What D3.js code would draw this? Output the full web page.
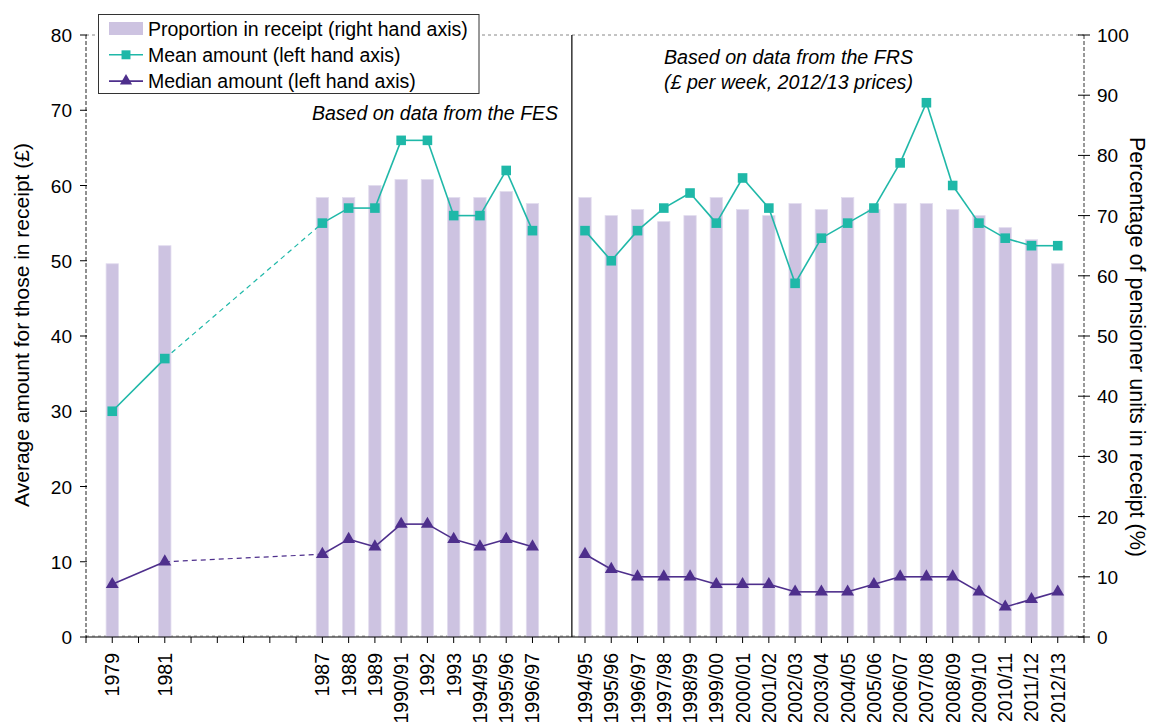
<!DOCTYPE html>
<html>
<head>
<meta charset="utf-8">
<script src="https://cdn.jsdelivr.net/npm/d3@7"></script>
<style>
  body { margin: 0; background: #fff; }
  text { font-family: "Liberation Sans", Arial, sans-serif; fill: #000; }
</style>
</head>
<body>
<script>
var width = 1151;
var height = 722;

// one slot per category on the x axis, "" = empty slot
var xLabels = ["1979","","1981","","","","","","1987","1988","1989","1990/91","1992","1993","1994/95","1995/96","1996/97",
  "",
  "1994/95","1995/96","1996/97","1997/98","1998/99","1999/00","2000/01","2001/02","2002/03","2003/04","2004/05",
  "2005/06","2006/07","2007/08","2008/09","2009/10","2010/11","2011/12","2012/13"];
var source = ["FES","FES","FES","FES","FES","FES","FES","FES","FES","FES","FES","FES","FES","FES","FES","FES","FES",
  "",
  "FRS","FRS","FRS","FRS","FRS","FRS","FRS","FRS","FRS","FRS","FRS","FRS","FRS","FRS","FRS","FRS","FRS","FRS","FRS"];

// percentage of pensioner units in receipt (right axis)
var proportion = [62,null,65,null,null,null,null,null,73,73,75,76,76,73,73,74,72,
  null,
  73,70,71,69,70,73,71,70,72,71,73,71,72,72,71,70,68,66,62];
// mean amount, £ per week (left axis)
var meanAmount = [30,null,37,null,null,null,null,null,55,57,57,66,66,56,56,62,54,
  null,
  54,50,54,57,59,55,61,57,47,53,55,57,63,71,60,55,53,52,52];
// median amount, £ per week (left axis)
var medianAmount = [7,null,10,null,null,null,null,null,11,13,12,15,15,13,12,13,12,
  null,
  11,9,8,8,8,7,7,7,6,6,6,7,8,8,8,6,4,5,6];

var leftTicks = [0,10,20,30,40,50,60,70,80];
var rightTicks = [0,10,20,30,40,50,60,70,80,90,100];

var barColor = "#cdc3e1";
var meanColor = "#1fb8a8";
var medianColor = "#4e2f8c";

var plotLeft = 86, plotRight = 1084, plotTop = 35, plotBottom = 637;

var svg = d3.select("body").append("svg")
    .attr("width", width)
    .attr("height", height);

var x = d3.scalePoint()
    .domain(d3.range(xLabels.length))
    .range([plotLeft, plotRight])
    .padding(1);
var step = x.step();

var yLeft = d3.scaleLinear().domain([0, 80]).range([plotBottom, plotTop]);
var yRight = d3.scaleLinear().domain([0, 100]).range([plotBottom, plotTop]);

// plot border (dashed)
svg.append("line")
    .attr("x1", plotLeft).attr("x2", plotRight)
    .attr("y1", plotTop).attr("y2", plotTop)
    .attr("stroke", "#888").attr("stroke-dasharray", "3,3");
svg.append("line")
    .attr("x1", plotLeft).attr("x2", plotRight)
    .attr("y1", plotBottom - 1).attr("y2", plotBottom - 1)
    .attr("stroke", "#999").attr("stroke-dasharray", "3,3");

// bars
var barWidth = step * 0.47;
svg.append("g").selectAll("rect")
  .data(proportion.map(function(v, i) { return {i: i, v: v}; }).filter(function(d) { return d.v != null; }))
  .enter().append("rect")
    .attr("x", function(d) { return x(d.i) - barWidth / 2; })
    .attr("y", function(d) { return yRight(d.v); })
    .attr("width", barWidth)
    .attr("height", function(d) { return yRight(0) - yRight(d.v); })
    .attr("fill", barColor)
    .attr("stroke", "#e2dcee")
    .attr("stroke-width", 0.8);

// separator between FES and FRS
var sepIndex = source.indexOf("FRS");
svg.append("line")
    .attr("x1", x(sepIndex) - step / 2).attr("x2", x(sepIndex) - step / 2)
    .attr("y1", plotTop).attr("y2", plotBottom)
    .attr("stroke", "#000").attr("stroke-width", 1.2);

// line segments: solid between nearby points, dashed across a long gap, none across sources
function segments(values) {
  var pts = [];
  values.forEach(function(v, i) { if (v != null) pts.push({i: i, v: v}); });
  var segs = [];
  for (var k = 1; k < pts.length; k++) {
    var a = pts[k - 1], b = pts[k];
    if (source[a.i] !== source[b.i]) continue;
    segs.push({a: a, b: b, dashed: (b.i - a.i) > 2});
  }
  return segs;
}

function drawSeries(values, color, shape) {
  var g = svg.append("g");
  g.selectAll("line")
    .data(segments(values))
    .enter().append("line")
      .attr("x1", function(d) { return x(d.a.i); })
      .attr("y1", function(d) { return yLeft(d.a.v); })
      .attr("x2", function(d) { return x(d.b.i); })
      .attr("y2", function(d) { return yLeft(d.b.v); })
      .attr("stroke", color)
      .attr("stroke-width", function(d) { return d.dashed ? 1.2 : 1.6; })
      .attr("stroke-dasharray", function(d) { return d.dashed ? "5,4" : null; });
  var sym = d3.symbol().type(shape).size(shape === d3.symbolSquare ? 92 : 72);
  g.selectAll("path")
    .data(values.map(function(v, i) { return {i: i, v: v}; }).filter(function(d) { return d.v != null; }))
    .enter().append("path")
      .attr("d", sym)
      .attr("transform", function(d) { return "translate(" + x(d.i) + "," + yLeft(d.v) + ")"; })
      .attr("fill", color);
}

drawSeries(meanAmount, meanColor, d3.symbolSquare);
drawSeries(medianAmount, medianColor, d3.symbolTriangle);

// left axis (dashed)
svg.append("line")
    .attr("x1", plotLeft).attr("x2", plotLeft)
    .attr("y1", plotTop).attr("y2", plotBottom)
    .attr("stroke", "#222").attr("stroke-dasharray", "4,2");
var gl = svg.append("g");
gl.selectAll("line").data(leftTicks).enter().append("line")
    .attr("x1", plotLeft - 6).attr("x2", plotLeft + 1)
    .attr("y1", function(d) { return yLeft(d); }).attr("y2", function(d) { return yLeft(d); })
    .attr("stroke", "#000");
gl.selectAll("text").data(leftTicks).enter().append("text")
    .attr("x", plotLeft - 14)
    .attr("y", function(d) { return yLeft(d) + 7; })
    .attr("text-anchor", "end")
    .attr("font-size", 19)
    .text(function(d) { return d; });

// right axis (dashed)
svg.append("line")
    .attr("x1", plotRight).attr("x2", plotRight)
    .attr("y1", plotTop).attr("y2", plotBottom)
    .attr("stroke", "#333").attr("stroke-dasharray", "4,2");
var gr = svg.append("g");
gr.selectAll("line").data(rightTicks).enter().append("line")
    .attr("x1", plotRight - 6).attr("x2", plotRight + 6)
    .attr("y1", function(d) { return yRight(d); }).attr("y2", function(d) { return yRight(d); })
    .attr("stroke", "#000");
gr.selectAll("text").data(rightTicks).enter().append("text")
    .attr("x", plotRight + 13)
    .attr("y", function(d) { return yRight(d) + 7; })
    .attr("text-anchor", "start")
    .attr("font-size", 19)
    .text(function(d) { return d; });

// bottom axis
svg.append("line")
    .attr("x1", plotLeft).attr("x2", plotRight)
    .attr("y1", plotBottom).attr("y2", plotBottom)
    .attr("stroke", "#000").attr("stroke-width", 1.2);
var tickXs = [plotLeft].concat(d3.range(xLabels.length).map(function(i) { return x(i); })).concat([plotRight]);
svg.append("g").selectAll("line").data(tickXs).enter().append("line")
    .attr("x1", function(d) { return d; }).attr("x2", function(d) { return d; })
    .attr("y1", plotBottom).attr("y2", plotBottom + 6)
    .attr("stroke", "#000");
svg.append("g").selectAll("text").data(xLabels).enter().append("text")
    .attr("transform", function(d, i) { return "translate(" + (x(i) + 7) + "," + (plotBottom + 16) + ") rotate(-90)"; })
    .attr("text-anchor", "end")
    .attr("font-size", 19.5)
    .text(function(d) { return d; });

// axis titles
svg.append("text")
    .attr("transform", "translate(29,325) rotate(-90)")
    .attr("text-anchor", "middle")
    .attr("font-size", 21)
    .text("Average amount for those in receipt (£)");
svg.append("text")
    .attr("transform", "translate(1130,347) rotate(90)")
    .attr("text-anchor", "middle")
    .attr("font-size", 21.6)
    .text("Percentage of pensioner units in receipt (%)");

// annotations
svg.append("text")
    .attr("x", 312).attr("y", 120)
    .attr("font-size", 19.5).attr("font-style", "italic")
    .text("Based on data from the FES");
svg.append("text")
    .attr("x", 664).attr("y", 64)
    .attr("font-size", 19.5).attr("font-style", "italic")
    .attr("textLength", 249).attr("lengthAdjust", "spacingAndGlyphs")
    .text("Based on data from the FRS");
svg.append("text")
    .attr("x", 664).attr("y", 89)
    .attr("font-size", 19.5).attr("font-style", "italic")
    .attr("textLength", 249).attr("lengthAdjust", "spacingAndGlyphs")
    .text("(£ per week, 2012/13 prices)");

// legend
var legend = svg.append("g");
legend.append("rect")
    .attr("x", 98.5).attr("y", 14.5).attr("width", 380.5).attr("height", 79)
    .attr("fill", "#fff").attr("stroke", "#333");
var legendItems = [
  {label: "Proportion in receipt (right hand axis)", kind: "bar"},
  {label: "Mean amount (left hand axis)", kind: "mean"},
  {label: "Median amount (left hand axis)", kind: "median"}
];
legendItems.forEach(function(item, k) {
  var cy = 28.5 + k * 26.3;
  if (item.kind === "bar") {
    legend.append("rect").attr("x", 109).attr("y", cy - 6.5).attr("width", 34).attr("height", 13).attr("fill", barColor);
  } else {
    var c = item.kind === "mean" ? meanColor : medianColor;
    legend.append("line").attr("x1", 109).attr("x2", 143).attr("y1", cy).attr("y2", cy)
        .attr("stroke", c).attr("stroke-width", 1.6);
    legend.append("path")
        .attr("d", d3.symbol().type(item.kind === "mean" ? d3.symbolSquare : d3.symbolTriangle).size(item.kind === "mean" ? 80 : 64))
        .attr("transform", "translate(126," + cy + ")")
        .attr("fill", c);
  }
  legend.append("text")
      .attr("x", 148).attr("y", cy + 7)
      .attr("font-size", 19.5)
      .text(item.label);
});
</script>
</body>
</html>
